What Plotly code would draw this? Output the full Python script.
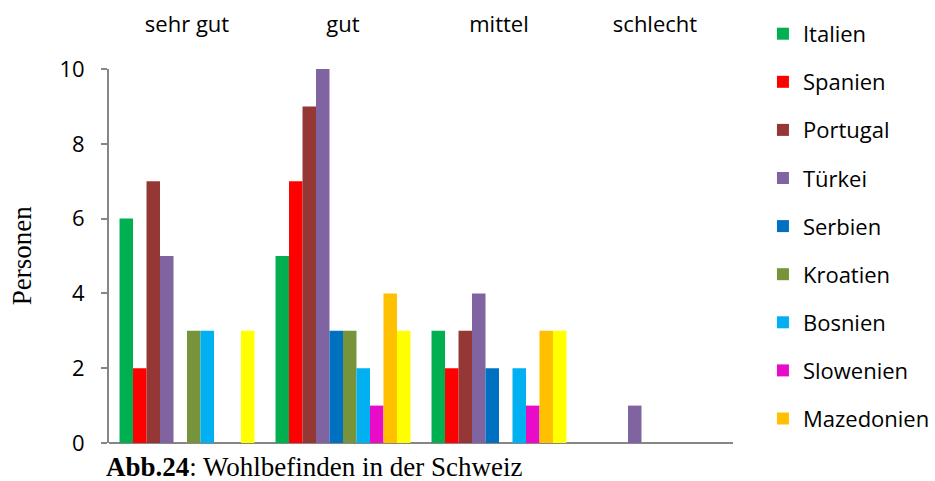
import plotly.graph_objects as go

categories = ["sehr gut", "gut", "mittel", "schlecht"]

countries = ["Italien", "Spanien", "Portugal", "Türkei", "Serbien",
             "Kroatien", "Bosnien", "Slowenien", "Mazedonien", "Kosovo"]

italien    = [6, 5, 3, 0]
spanien    = [2, 7, 2, 0]
portugal   = [7, 9, 3, 0]
tuerkei    = [5, 10, 4, 1]
serbien    = [0, 3, 2, 0]
kroatien   = [3, 3, 0, 0]
bosnien    = [3, 2, 2, 0]
slowenien  = [0, 1, 1, 0]
mazedonien = [0, 4, 3, 0]
kosovo     = [3, 3, 3, 0]

values = [italien, spanien, portugal, tuerkei, serbien,
          kroatien, bosnien, slowenien, mazedonien, kosovo]

colors = ["#00B050", "#FF0000", "#953735", "#8064A2", "#0070C0",
          "#77933C", "#00B0F0", "#E80BC8", "#FFC000", "#FFFF00"]

show_in_legend = [True] * 9 + [False]

SANS = "Open Sans"
SERIF = "Liberation Serif"

fig = go.Figure()
for name, vals, col, show in zip(countries, values, colors, show_in_legend):
    fig.add_trace(go.Bar(
        x=categories, y=vals, name=name,
        marker=dict(color=col, line=dict(width=0)),
        showlegend=show, legendgroup=name,
    ))

fig.update_layout(
    width=935, height=481,
    margin=dict(l=109, r=202, t=69, b=38, autoexpand=False),
    paper_bgcolor="white", plot_bgcolor="white",
    barmode="group", bargap=0.135, bargroupgap=0,
    font=dict(family=SANS, size=22, color="#000000"),
    xaxis=dict(
        side="top", type="category", showline=False, showgrid=False,
        ticks="", ticklabelstandoff=32, automargin=False,
        tickfont=dict(family=SANS, size=22, color="#000000"),
    ),
    yaxis=dict(
        range=[0, 10], dtick=2, showgrid=False, automargin=False,
        showline=True, linecolor="#868686", linewidth=2,
        ticks="outside", ticklen=6, tickwidth=2, tickcolor="#868686",
        ticklabelstandoff=12,
        zeroline=True, zerolinecolor="#868686", zerolinewidth=2,
        tickfont=dict(family=SANS, size=22, color="#000000"),
    ),
    legend=dict(
        x=1.048, xanchor="left", y=1.15, yanchor="top",
        font=dict(family=SANS, size=22, color="#000000"),
        tracegroupgap=16.5, traceorder="grouped", maxheight=481,
        bgcolor="rgba(0,0,0,0)",
    ),
    annotations=[
        dict(text="Personen", textangle=-90, xref="paper", yref="paper",
             x=-0.139, y=0.5, xanchor="center", yanchor="middle",
             showarrow=False, font=dict(family=SERIF, size=27, color="#000000")),
        dict(text="<b>Abb.24</b>: Wohlbefinden in der Schweiz",
             xref="paper", yref="paper", x=-0.008, y=-0.064,
             xanchor="left", yanchor="middle", showarrow=False,
             font=dict(family=SERIF, size=27, color="#000000")),
    ],
)

fig.write_html(
    "out.html",
    config={"displayModeBar": False},
    post_script="document.body.style.margin='0';document.body.style.overflow='hidden';",
)
